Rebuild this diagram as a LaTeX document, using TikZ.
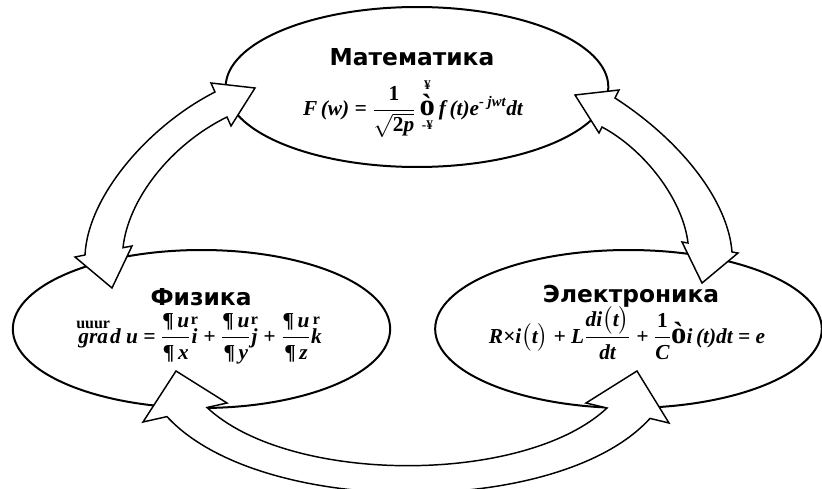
\documentclass[tikz,border=0pt]{standalone}
\usepackage{amsmath}
\usepackage{fontspec}
\newfontfamily\headfont{DejaVu Sans}
\newfontfamily\formfont{Liberation Serif}
\usetikzlibrary{shapes.geometric, positioning}
\newcommand\smallup[1]{\hbox{\upshape\fontsize{12}{12}\selectfont #1}}
\newcommand\tinyup[1]{\hbox{\upshape\fontsize{10}{10}\selectfont #1}}
\newcommand\bigint{\hbox{\upshape\fontsize{23}{23}\selectfont ò}}

\begin{document}
\begin{tikzpicture}[
  x=0.75pt, y=-0.75pt,
  oval/.style={draw, ellipse, line width=1.5pt, fill=white, inner sep=0pt},
  title/.style={anchor=base, font=\headfont\bfseries\fontsize{17.5}{20}\selectfont},
  formula/.style={inner sep=0pt, font=\formfont\bfseries\itshape\fontsize{16}{19}\selectfont},
  blockarrow/.style={draw, fill=white, line width=1.1pt, line join=miter}
]
  \useasboundingbox (0,0) rectangle (822,489);
  \clip (0,0) rectangle (822,489);

  % the three fields
  \node[oval, minimum width=287pt, minimum height=120pt] (math) at (417,87) {};
  \node[oval, minimum width=283pt, minimum height=118.5pt] (phys) at (201.5,329) {};
  \node[oval, minimum width=290pt, minimum height=118.5pt] (elec) at (628.5,329) {};

  % double block arrows between them
  \draw[blockarrow] (85,255) -- (75,257) -- (112,288) -- (132,246) -- (123,247.7)
    .. controls (128,200) and (170,145) .. (227,117) -- (231,126) -- (255,88) -- (211,83) -- (215,92)
    .. controls (150,125) and (88,195) .. (85,255) -- cycle;
  \draw[blockarrow] (615,98) -- (619,90) -- (575,95) -- (599,133) -- (602,127)
    .. controls (645,150) and (683,200) .. (688,243) -- (682,242) -- (702,283) -- (738,253) -- (732,252)
    .. controls (728,200) and (680,140) .. (615,98) -- cycle;
  \draw[blockarrow] (167,416.6) -- (143,422) -- (176,371) -- (227,403) -- (207,407.5)
    .. controls (290,485) and (525,485) .. (607,408) -- (586,403) -- (637,371) -- (669,423) -- (650,418.4)
    .. controls (560,518) and (260,518) .. (167,416.6) -- cycle;

  % names
  \node[title] (mathname) at (412,65) {Математика};
  \node[title] (physname) at (201,305) {Физика};
  \node[title] (elecname) at (631,302) {Электроника};

  % formulas
  \node[formula] (mathformula) at (413,108)
    {$\hbox{F\,(w) = }\dfrac{\hbox{\upshape 1}}{\sqrt{\hbox{\upshape 2\itshape p}}}\mathop{\bigint}\limits^{\tinyup{¥}}_{\tinyup{-¥}}\hbox{f\,(t)e}^{\hbox{\fontsize{11}{11}\selectfont - jwt}}\hbox{dt}$};
  \node[formula] (physformula) at (199,339)
    {$\overset{\smallup{uuur}}{\hbox{gra}}\hbox{d u = }\dfrac{\hbox{\upshape ¶\,\itshape u}}{\hbox{\upshape ¶\,\itshape x}}\overset{\smallup{r}}{\hbox{i}}\hbox{ + }\dfrac{\hbox{\upshape ¶\,\itshape u}}{\hbox{\upshape ¶\,\itshape y}}\overset{\smallup{r}}{\hbox{j}}\hbox{ + }\dfrac{\hbox{\upshape ¶\,\itshape u}}{\hbox{\upshape ¶\,\itshape z}}\overset{\smallup{r}}{\hbox{k}}$};
  \node[formula] (elecformula) at (627,333)
    {$\hbox{R×i}\bigl(\hbox{t}\bigr)\hbox{ + L}\dfrac{\hbox{di}\bigl(\hbox{t}\bigr)}{\hbox{dt}}\hbox{ + }\dfrac{\hbox{\upshape 1}}{\hbox{C}}\bigint\hbox{i\,(t)dt = e}$};
\end{tikzpicture}
\end{document}
